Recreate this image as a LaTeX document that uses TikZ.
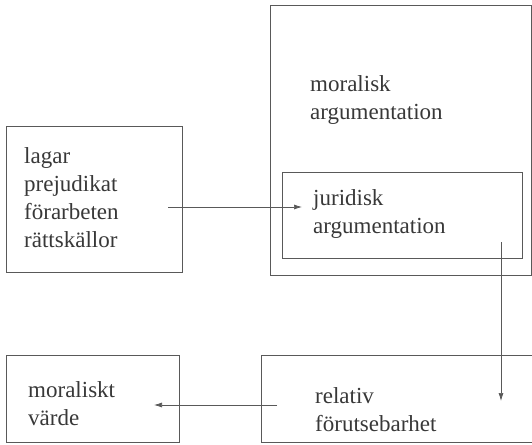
\documentclass[tikz,border=0pt]{standalone}
\usepackage{fontspec}
\setmainfont{Liberation Serif}
\usetikzlibrary{arrows.meta}
\definecolor{ink}{gray}{0.22}
\definecolor{linec}{gray}{0.35}
\begin{document}
\begin{tikzpicture}[x=1pt,y=-1pt,
  box/.style={draw=linec,line width=0.8pt,inner sep=0pt,anchor=north west},
  txt/.style={text=ink,align=left,inner sep=0pt,anchor=north west,
    font=\fontsize{23}{28}\selectfont},
  conn/.style={draw=linec,line width=0.7pt,-{Latex[length=8pt,width=5pt]}}]
\useasboundingbox (0,0) rectangle (532,444);
% boxes
\node[box,minimum width=261pt,minimum height=270pt] (outer) at (270,5) {};
\node[box,minimum width=240pt,minimum height=86pt] (inner) at (282,172) {};
\node[box,minimum width=176pt,minimum height=146pt] (src) at (6,126) {};
\node[box,minimum width=173pt,minimum height=87pt] (val) at (6,355) {};
\node[box,minimum width=280pt,minimum height=87pt] (pred) at (261,355) {};
% texts
\node[txt] (tsrc) at (24,147) {lagar\\prejudikat\\förarbeten\\rättskällor};
\node[txt] (tmor) at (310,75) {moralisk\\argumentation};
\node[txt] (tjur) at (313,189) {juridisk\\argumentation};
\node[txt] (tval) at (28,381) {moraliskt\\värde};
\node[txt] (tpred) at (315,387) {relativ\\förutsebarhet};
% connector ends
\coordinate (a1) at (168,207);
\coordinate (a2) at (302,207);
\coordinate (b1) at (501,242);
\coordinate (b2) at (501,401);
\coordinate (c1) at (277,405);
\coordinate (c2) at (154,405);
\draw[conn] (a1) -- (a2);
\draw[conn] (b1) -- (b2);
\draw[conn] (c1) -- (c2);
\end{tikzpicture}
\end{document}
